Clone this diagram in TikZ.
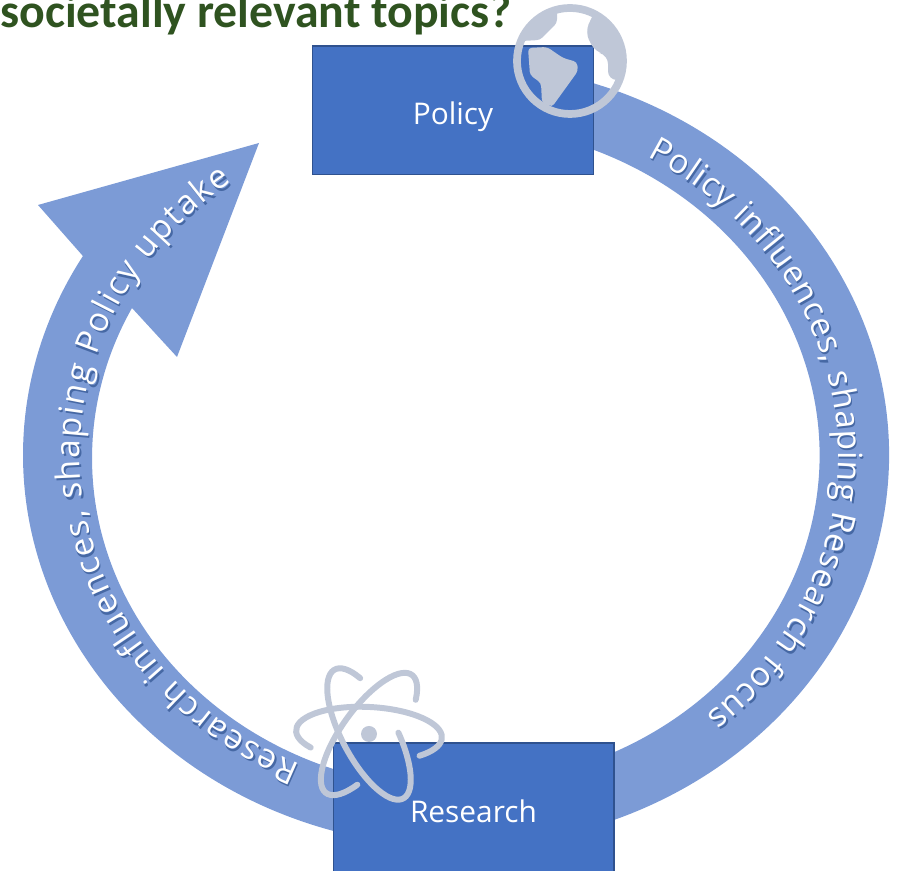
\documentclass[tikz,border=0pt]{standalone}
\usepackage{fontspec}
\setsansfont{Open Sans}
\newfontfamily\titlefont{Carlito}
\usetikzlibrary{decorations.text}
\definecolor{boxblue}{HTML}{4472C4}
\definecolor{boxline}{HTML}{2F528F}
\definecolor{ringblue}{HTML}{7C9BD6}
\definecolor{iconblue}{HTML}{BFC7D7}
\definecolor{titlegreen}{HTML}{2F5320}
\begin{document}
\begin{tikzpicture}[x=0.02cm,y=0.02cm]
  \tikzset{bluebox/.style={draw=boxline,fill=boxblue,line width=0.6pt,minimum width=5.62cm,text=white,font=\sffamily\fontsize{17}{20}\selectfont}}
  \tikzset{ringarc/.style={fill=ringblue}}
  \tikzset{orbit/.style={draw=iconblue,line width=3.4pt,line cap=round}}
  \tikzset{ringtext/.style 2 args={decorate,decoration={text along path,text align=fit to path,text={|\sffamily\fontsize{19}{22}\selectfont\color{#1}|#2}}}}
  \useasboundingbox (0,0) rectangle (904,871);
  \clip (0,0) rectangle (904,871);

  \node[anchor=base west,inner sep=0pt,text=titlegreen,font=\titlefont\bfseries\fontsize{27.2}{30}\selectfont] (title) at (0,843) {societally relevant topics?};

  % the ring, in two parts
  \fill[ringarc] (456,416) ++(75:433 and 392) arc[start angle=75,end angle=-72,x radius=433,y radius=392]
    -- (568,102) arc[start angle=-72,end angle=75,x radius=364,y radius=330] -- cycle;
  \fill[ringarc] (456,416) ++(255:433 and 392) arc[start angle=255,end angle=149.5,x radius=433,y radius=392]
    -- (38,666) -- (259,728) -- (177,514) -- (132,563)
    arc[start angle=152.9,end angle=255,x radius=364,y radius=330] -- cycle;

  \node[bluebox,minimum height=2.58cm,text height=16pt,text depth=0pt] (policy) at (453,760.5) {Policy};
  \node[bluebox,minimum height=2.72cm] (research) at (473.5,60) {Research};

  % curved texts, shadow first
  \path[ringtext={boxline!70!ringblue}{Policy influences, shaping Research focus}] (457.5,413.5) ++(60:382 and 345) arc[start angle=60,end angle=-49,x radius=382,y radius=345];
  \path[ringtext={white}{Policy influences, shaping Research focus}] (456,416) ++(60:382 and 345) arc[start angle=60,end angle=-49,x radius=382,y radius=345];
  \path[ringtext={boxline!70!ringblue}{Research influences, shaping Policy uptake}] (457.5,413.5) ++(245.5:376 and 340) arc[start angle=245.5,end angle=126.6,x radius=376,y radius=340];
  \path[ringtext={white}{Research influences, shaping Policy uptake}] (456,416) ++(245.5:376 and 340) arc[start angle=245.5,end angle=126.6,x radius=376,y radius=340];

  % globe
  \begin{scope}
    \clip (570,810) circle (54);
    \fill[iconblue,rounded corners=2pt] (500,830) -- (522,830) -- (540,831) -- (557,848) -- (557,871) -- (500,871) -- cycle;
    \fill[iconblue,rounded corners=5pt] (592,854) -- (585,839) -- (595,819) -- (608,816) -- (608,791) -- (640,791) -- (640,871) -- (600,871) -- cycle;
  \end{scope}
  \fill[iconblue,rounded corners=2pt] (528,823) -- (547,824) -- (563,813) -- (577,809) -- (578,800) -- (552,764) -- (542,768) -- (541,788) -- (530,796) -- cycle;
  \draw[iconblue,line width=4.4pt] (570,810) circle (53);

  % atom
  \fill[iconblue] (369,137) circle (8);
  \begin{scope}[shift={(369,137)},rotate=-3]
    \draw[orbit] (218:73 and 27) arc[start angle=218,end angle=-45,x radius=73,y radius=27];
  \end{scope}
  \begin{scope}[shift={(369,137)},rotate=-62]
    \draw[orbit] (137:73 and 27) arc[start angle=137,end angle=440,x radius=73,y radius=27];
  \end{scope}
  \begin{scope}[shift={(369,137)},rotate=54]
    \draw[orbit] (-41:73 and 27) arc[start angle=-41,end angle=229,x radius=73,y radius=27];
  \end{scope}
\end{tikzpicture}
\end{document}
